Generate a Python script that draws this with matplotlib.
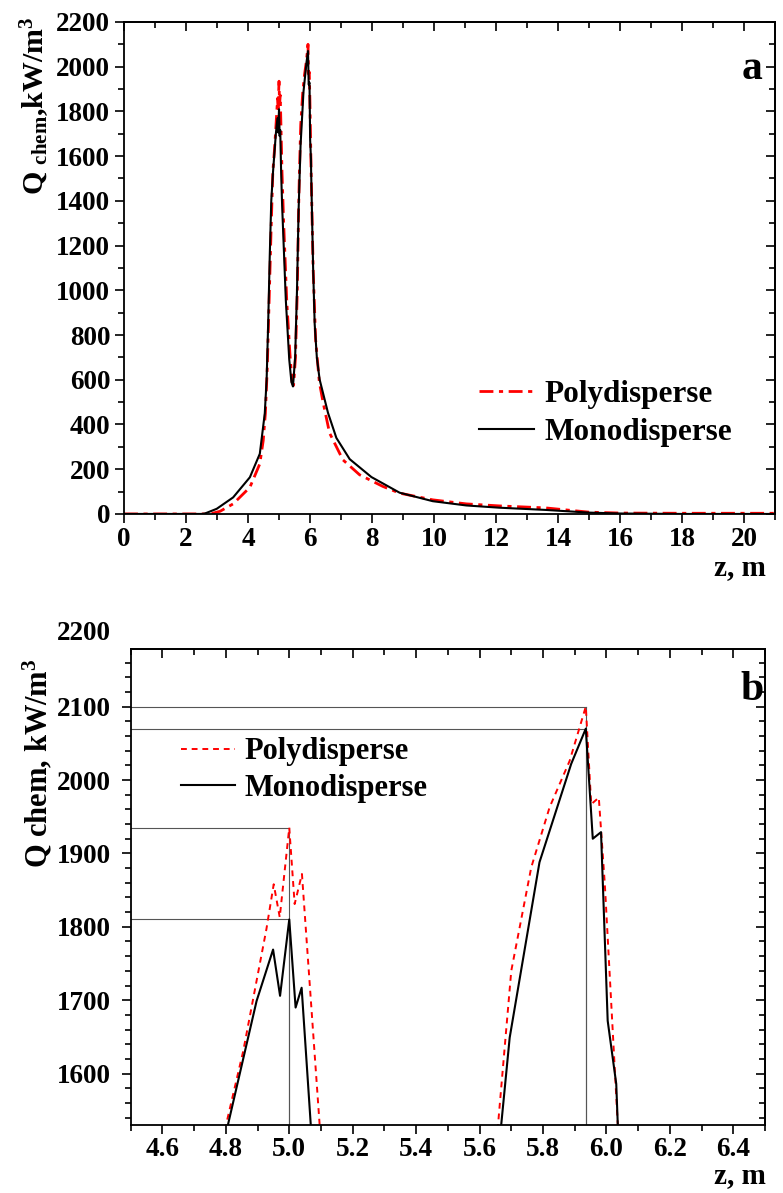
import numpy as np
import matplotlib
matplotlib.use('Agg')
import matplotlib.pyplot as plt
from matplotlib.ticker import MultipleLocator

# --- data (z in m, Q_chem in kW/m^3) ---
z_mono = [0, 2.5, 2.61, 2.99, 3.52, 4.06, 4.38, 4.54, 4.60, 4.65, 4.70, 4.75,
          4.806, 4.897, 4.949, 4.971, 5.0, 5.02, 5.039, 5.068, 5.10, 5.22, 5.33,
          5.40, 5.45, 5.52, 5.58, 5.63, 5.668, 5.695, 5.789, 5.889, 5.935, 5.957,
          5.983, 6.004, 6.031, 6.036, 6.10, 6.15, 6.22, 6.31, 6.58, 6.85, 7.28,
          7.98, 8.89, 9.96, 11.04, 12.1, 13.6, 15.0, 16.0, 18.0, 21.0]
q_mono = [0, 0, 2, 23, 74, 164, 269, 449, 600, 850, 1150, 1400,
          1529, 1699, 1769, 1706, 1810, 1690, 1717, 1529, 1380, 954, 690,
          590, 570, 700, 1000, 1350, 1529, 1649, 1888, 2022, 2070, 1920,
          1929, 1672, 1586, 1529, 1100, 850, 700, 601, 452, 340, 245,
          165, 95, 57, 38, 28, 18, 6, 2, 0, 0]

z_poly = [0, 2.7, 2.83, 3.1, 3.52, 4.06, 4.38, 4.49, 4.56, 4.62, 4.68, 4.74,
          4.80, 4.855, 4.928, 4.951, 4.970, 5.0, 5.017, 5.040, 5.096, 5.15,
          5.25, 5.35, 5.42, 5.47, 5.53, 5.59, 5.63, 5.658, 5.70, 5.763, 5.821,
          5.884, 5.935, 5.952, 5.976, 5.995, 6.036, 6.10, 6.18, 6.30, 6.42,
          6.63, 7.06, 7.6, 8.35, 8.89, 9.96, 11.04, 12.1, 13.6, 15.0, 16.0,
          18.0, 21.0]
q_poly = [0, 0, 2, 12, 45, 119, 224, 328, 450, 650, 950, 1250,
          1529, 1631, 1797, 1858, 1813, 1935, 1831, 1872, 1529, 1300,
          950, 720, 590, 575, 700, 1000, 1350, 1529, 1740, 1881, 1963,
          2026, 2100, 1967, 1976, 1858, 1529, 1100, 780, 590, 500,
          362, 242, 175, 123, 93, 63, 45, 36, 27, 8, 4,
          3, 3]

plt.rcParams['font.family'] = 'Liberation Serif'
plt.rcParams['font.weight'] = 'bold'
plt.rcParams['mathtext.fontset'] = 'custom'
plt.rcParams['mathtext.rm'] = 'Liberation Serif:bold'
plt.rcParams['mathtext.it'] = 'Liberation Serif:bold'
plt.rcParams['mathtext.bf'] = 'Liberation Serif:bold'


def style_axes(ax, xmaj, xmin, ymaj, ymin, ypad, xpad):
    for s in ax.spines.values():
        s.set_linewidth(1.3)
    ax.xaxis.set_major_locator(MultipleLocator(xmaj))
    ax.xaxis.set_minor_locator(MultipleLocator(xmin))
    ax.yaxis.set_major_locator(MultipleLocator(ymaj))
    ax.yaxis.set_minor_locator(MultipleLocator(ymin))
    ax.tick_params(which='both', direction='out', top=False, right=False,
                   width=1.2, labelsize=19.5)
    ax.tick_params(which='major', length=6.5)
    ax.tick_params(which='minor', length=4.5)
    ax.tick_params(axis='y', pad=ypad)
    ax.tick_params(axis='x', pad=xpad)
    # mirrored ticks on top and right point into the plot
    top = ax.secondary_xaxis('top')
    top.xaxis.set_major_locator(MultipleLocator(xmaj))
    top.xaxis.set_minor_locator(MultipleLocator(xmin))
    top.tick_params(which='both', direction='in', labeltop=False, width=1.2)
    top.tick_params(which='major', length=6.5)
    top.tick_params(which='minor', length=4.5)
    top.spines['top'].set_linewidth(1.3)
    right = ax.secondary_yaxis('right')
    right.yaxis.set_major_locator(MultipleLocator(ymaj))
    right.yaxis.set_minor_locator(MultipleLocator(ymin))
    right.tick_params(which='both', direction='in', labelright=False, width=1.2)
    right.tick_params(which='major', length=6.5)
    right.tick_params(which='minor', length=4.5)
    right.spines['right'].set_linewidth(1.3)


fig = plt.figure(figsize=(7.83, 11.93), dpi=100)

# ---------- panel a ----------
ax1 = fig.add_axes([0.1584, 0.5692, 0.8314, 0.4124])
ax1.plot(z_poly, q_poly, color='red', lw=2.0, dashes=(5, 2, 1.5, 2),
         label='Polydisperse')
ax1.plot(z_mono, q_mono, color='black', lw=1.5, label='Monodisperse')
ax1.set_xlim(0, 21)
ax1.set_ylim(0, 2200)
style_axes(ax1, 2, 1, 200, 100, ypad=3.5, xpad=3)
ax1.text(-0.137, 0.83, 'Q $_{\\mathrm{chem}}$,kW/m$^{\\mathrm{3}}$',
         transform=ax1.transAxes, rotation=90, ha='center', va='center',
         fontsize=21.5)
ax1.text(0.965, 0.905, 'a', transform=ax1.transAxes, ha='center',
         va='center', fontsize=30)
ax1.legend(loc='upper left', bbox_to_anchor=(0.545, 0.272), frameon=False,
           fontsize=22.5, handlelength=1.75, handletextpad=0.35,
           labelspacing=0.28, borderpad=0, borderaxespad=0)
fig.text(0.945, 0.524, 'z, m', ha='center', va='center', fontsize=21)

# ---------- panel b ----------
ax2 = fig.add_axes([0.1669, 0.0570, 0.8101, 0.3987])
ax2.plot(z_poly, q_poly, color='red', lw=1.4, dashes=(3, 2.5),
         label='Polydisperse')
ax2.plot(z_mono, q_mono, color='black', lw=1.5, label='Monodisperse')
ax2.set_xlim(4.5, 6.5)
ax2.set_ylim(1530, 2178)
style_axes(ax2, 0.2, 0.1, 100, 20, ypad=8, xpad=2)

# guide lines marking the peak values
zp, qp = np.array(z_poly), np.array(q_poly)
zm, qm = np.array(z_mono), np.array(q_mono)
for z_arr, q_arr in ((zp, qp), (zm, qm)):
    for lo, hi in ((4.8, 5.2), (5.6, 6.1)):
        sel = (z_arr > lo) & (z_arr < hi)
        i = np.argmax(q_arr[sel])
        zpk, qpk = z_arr[sel][i], q_arr[sel][i]
        ax2.plot([4.5, zpk], [qpk, qpk], color='#555555', lw=0.8, zorder=1)
        ax2.plot([zpk, zpk], [1530, qpk], color='#555555', lw=0.8, zorder=1)

ax2.annotate('2200', xy=(0, 2200), xycoords=('axes fraction', 'data'),
             xytext=(-14.5, 0), textcoords='offset points', ha='right',
             va='center', fontsize=19.5, annotation_clip=False)
ax2.text(-0.146, 0.76, 'Q chem, kW/m$^{\\mathrm{3}}$', transform=ax2.transAxes,
         rotation=90, ha='center', va='center', fontsize=22)
ax2.text(0.979, 0.914, 'b', transform=ax2.transAxes, ha='center',
         va='center', fontsize=30)
ax2.legend(loc='upper left', bbox_to_anchor=(0.08, 0.815), frameon=False,
           fontsize=22, handlelength=1.75, handletextpad=0.3,
           labelspacing=0.25, borderpad=0, borderaxespad=0)
fig.text(0.945, 0.015, 'z, m', ha='center', va='center', fontsize=21)

fig.savefig('out.png', dpi=100)
